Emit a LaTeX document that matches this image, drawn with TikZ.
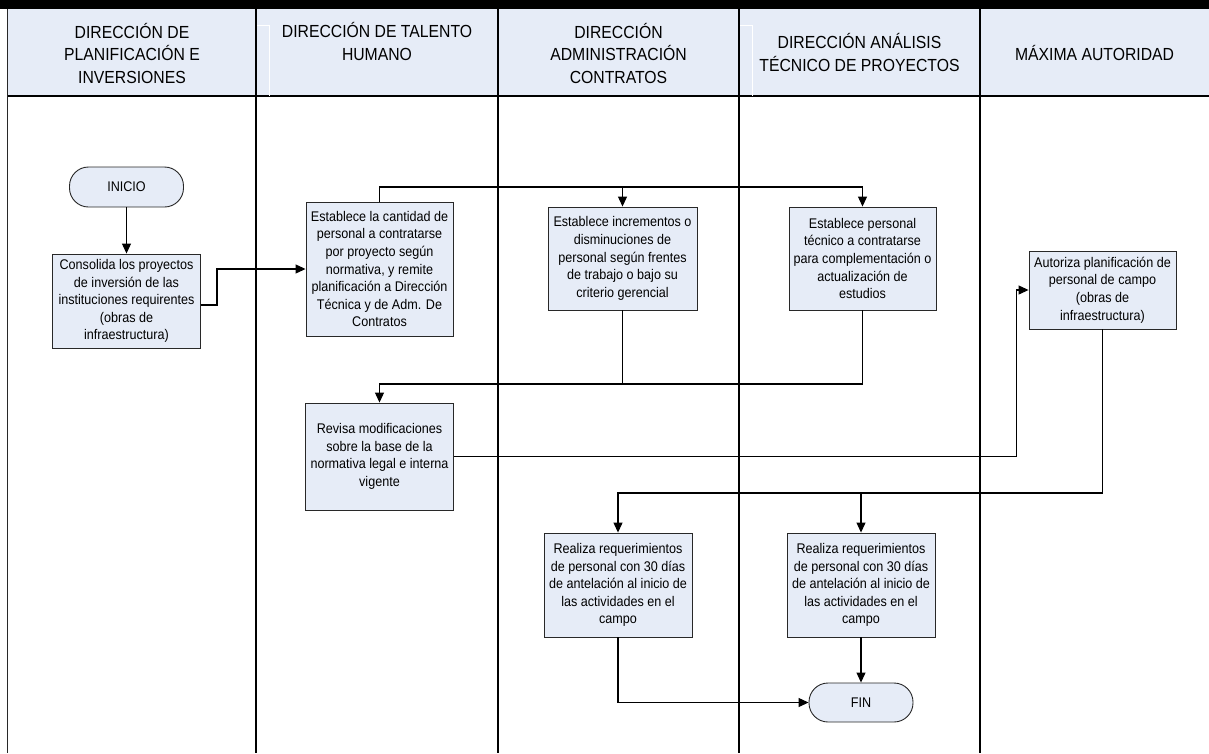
\documentclass[tikz,border=0pt]{standalone}
\usepackage{fontspec}
\setmainfont{Liberation Sans}[FakeStretch=0.9]
\usetikzlibrary{arrows.meta,calc}

\definecolor{lanefill}{RGB}{230,236,247}
\definecolor{boxfill}{RGB}{230,236,247}
\definecolor{edge}{RGB}{40,40,40}

\tikzset{
  lanehead/.style={font=\fontsize{17.5}{22.5}\selectfont, align=center, inner sep=0pt},
  procbox/.style={draw=edge, line width=0.9pt, fill=boxfill, align=center,
    inner sep=2pt, font=\fontsize{14}{17.6}\selectfont},
  termbox/.style={draw=edge, line width=0.9pt, fill=boxfill, align=center,
    inner sep=0pt, rounded corners=19pt, font=\fontsize{14}{17.6}\selectfont},
  flow/.style={draw=black, line width=1.1pt},
  arr/.style={flow, -{Triangle[length=10pt,width=9pt]}},
  laneline/.style={draw=black, line width=1.1pt}
}

\begin{document}
\begin{tikzpicture}[x=1pt,y=-1pt]
\useasboundingbox (0,0) rectangle (1209,753);

% title band and header row
\fill[black] (0,0) rectangle (1209,9);
\fill[lanefill] (7.5,9) rectangle (1209,96);
\draw[laneline] (7.5,96) -- (1209,96);

% swimlane borders
\draw[draw=edge, line width=1.8pt] (7.5,9) -- (7.5,753);
\foreach \lx in {256,498,739,980} {
  \draw[laneline] (\lx,9) -- (\lx,753);
}

% thin white guides in the header
\draw[white, line width=0.8pt] (257,25) -- (269,25) -- (269,96);
\draw[white, line width=0.8pt] (740,25) -- (752,25) -- (752,96);

% lane titles
\node[lanehead] (h1) at (132,53) {DIRECCIÓN DE\\PLANIFICACIÓN E\\INVERSIONES};
\node[lanehead] (h2) at (377,41.5) {DIRECCIÓN DE TALENTO\\HUMANO};
\node[lanehead] (h3) at (618.5,53) {DIRECCIÓN\\ADMINISTRACIÓN\\CONTRATOS};
\node[lanehead] (h4) at (859.5,52.5) {DIRECCIÓN ANÁLISIS\\TÉCNICO DE PROYECTOS};
\node[lanehead] (h5) at (1094.5,52.5) {MÁXIMA AUTORIDAD};

% process steps
\node[termbox, minimum width=114pt, minimum height=40pt] (inicio) at (126.5,187) {INICIO};
\node[procbox, minimum width=148pt, minimum height=94pt] (cons) at (126.5,301)
  {Consolida los proyectos\\de inversión de las\\instituciones requirentes\\(obras de\\infraestructura)};
\node[procbox, minimum width=147pt, minimum height=134pt] (est1) at (379.5,269)
  {Establece la cantidad de\\personal a contratarse\\por proyecto según\\normativa, y remite\\planificación a Dirección\\Técnica y de Adm. De\\Contratos};
\node[procbox, minimum width=149pt, minimum height=103pt] (est2) at (622.5,258.5)
  {Establece incrementos o\\disminuciones de\\personal según frentes\\de trabajo o bajo su\\criterio gerencial};
\node[procbox, minimum width=147pt, minimum height=103pt] (est3) at (862.5,258.5)
  {Establece personal\\técnico a contratarse\\para complementación o\\actualización de\\estudios};
\node[procbox, minimum width=147pt, minimum height=78pt] (aut) at (1102.5,290)
  {Autoriza planificación de\\personal de campo\\(obras de\\infraestructura)};
\node[procbox, minimum width=148pt, minimum height=107pt] (rev) at (379.5,456.5)
  {Revisa modificaciones\\sobre la base de la\\normativa legal e interna\\vigente};
\node[procbox, minimum width=148pt, minimum height=104pt] (rea1) at (618,585)
  {Realiza requerimientos\\de personal con 30 días\\de antelación al inicio de\\las actividades en el\\campo};
\node[procbox, minimum width=148pt, minimum height=104pt] (rea2) at (861,585)
  {Realiza requerimientos\\de personal con 30 días\\de antelación al inicio de\\las actividades en el\\campo};
\node[termbox, minimum width=104pt, minimum height=39pt] (fin) at (861,702.5) {FIN};

% junction levels
\coordinate (top) at (0,187);
\coordinate (mid) at (0,384);
\coordinate (low) at (0,493);

% connectors
\draw[arr] (inicio) -- (cons);
\draw[arr] ([yshift=-4pt]cons.east) -- ++(16,0) |- (est1.west);
\draw[arr] (est1.north) |- (est3.north |- top) -- (est3.north);
\draw[arr] (est2.north |- top) -- (est2.north);
\draw[flow] (est2.south) -- (est2.south |- mid);
\draw[arr] (est3.south) |- (rev.north |- mid) -- (rev.north);
\draw[arr] (rev.east) -| ([xshift=-12pt]aut.west) -- (aut.west);
\draw[arr] (aut.south) |- (rea1.north |- low) -- (rea1.north);
\draw[arr] (rea2.north |- low) -- (rea2.north);
\draw[arr] (rea1.south) |- (fin.west);
\draw[arr] (rea2.south) -- (fin.north);
\end{tikzpicture}
\end{document}
